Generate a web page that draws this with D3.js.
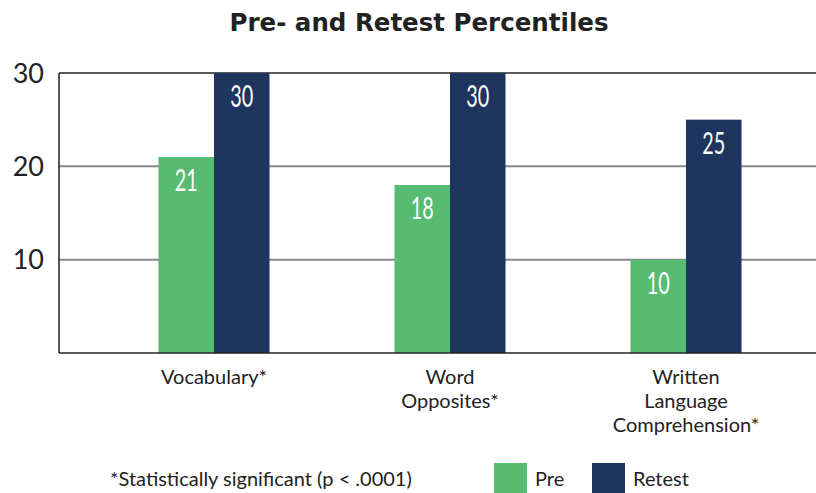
<!DOCTYPE html>
<html>
<head>
<meta charset="utf-8">
<script src="https://cdn.jsdelivr.net/npm/d3@7"></script>
<style>
  body { margin: 0; background: #fff; }
  svg { display: block; }
</style>
</head>
<body>
<svg id="chart" width="816" height="493"></svg>
<script>
// data
var categories = ["Vocabulary*", "Word\nOpposites*", "Written\nLanguage\nComprehension*"];
var preValues = [21, 18, 10];
var retestValues = [30, 30, 25];
var seriesNames = ["Pre", "Retest"];
var yTicks = [10, 20, 30];

var colors = {Pre: "#58bb72", Retest: "#1d355f"};

var svg = d3.select("#chart"),
    plotLeft = 59,
    plotRight = 816,
    plotTop = 73,
    plotBottom = 353;

var rows = categories.map(function(c, i){
  return {cat: c, Pre: preValues[i], Retest: retestValues[i]};
});

var x0 = d3.scaleBand()
  .domain(categories)
  .range([96, 804])
  .paddingInner(0);
var x1 = d3.scaleBand()
  .domain(seriesNames)
  .range([0, 111]);
var y = d3.scaleLinear()
  .domain([0, 30])
  .range([plotBottom, plotTop]);

// title
svg.append("text")
  .attr("x", 419)
  .attr("y", 31)
  .attr("text-anchor", "middle")
  .style("font-family", "'DejaVu Sans', sans-serif")
  .style("font-weight", "bold")
  .style("font-size", "24.5px")
  .style("fill", "#222")
  .text("Pre- and Retest Percentiles");

// grid lines
svg.append("g")
  .selectAll("line")
  .data(yTicks)
  .enter()
  .append("line")
  .attr("x1", plotLeft)
  .attr("x2", plotRight)
  .attr("y1", function(d){ return y(d); })
  .attr("y2", function(d){ return y(d); })
  .style("stroke", function(d){ return d == 30 ? "#222" : "#888"; })
  .style("stroke-width", function(d){ return d == 30 ? 1.5 : 2; });

// y tick labels
svg.append("g")
  .selectAll("text")
  .data(yTicks)
  .enter()
  .append("text")
  .attr("x", 44)
  .attr("y", function(d){ return y(d); })
  .attr("dy", "0.36em")
  .attr("text-anchor", "end")
  .style("font-family", "Lato, 'DejaVu Sans', sans-serif")
  .style("font-size", "27px")
  .style("fill", "#222")
  .text(function(d){ return d; });

// bars
var groups = svg.append("g")
  .selectAll("g")
  .data(rows)
  .enter()
  .append("g")
  .attr("transform", function(d){ return "translate(" + (x0(d.cat) + x0.bandwidth()/2 - 55.5) + ",0)"; });

var bars = groups.selectAll("g")
  .data(function(d){ return seriesNames.map(function(s){ return {key: s, value: d[s]}; }); })
  .enter()
  .append("g");

bars.append("rect")
  .attr("x", function(d){ return x1(d.key); })
  .attr("width", x1.bandwidth())
  .attr("y", function(d){ return y(d.value); })
  .attr("height", function(d){ return y(0) - y(d.value); })
  .style("fill", function(d){ return colors[d.key]; });

// condensed value labels (squeezed horizontally)
bars.append("text")
  .attr("transform", function(d){
    return "translate(" + (x1(d.key) + x1.bandwidth()/2) + "," + (y(d.value) + 34) + ") scale(0.66,1)";
  })
  .attr("text-anchor", "middle")
  .style("font-family", "Lato, 'DejaVu Sans', sans-serif")
  .style("font-size", "30px")
  .style("fill", "#fff")
  .text(function(d){ return d.value; });

// axes lines
svg.append("line")
  .attr("x1", plotLeft).attr("x2", plotRight)
  .attr("y1", plotBottom).attr("y2", plotBottom)
  .style("stroke", "#222").style("stroke-width", 1.5);
svg.append("line")
  .attr("x1", plotLeft).attr("x2", plotLeft)
  .attr("y1", plotTop).attr("y2", plotBottom)
  .style("stroke", "#222").style("stroke-width", 1.5);

// category labels
var catLabels = svg.append("g")
  .selectAll("text")
  .data(categories)
  .enter()
  .append("text")
  .attr("text-anchor", "middle")
  .style("font-family", "Lato, 'DejaVu Sans', sans-serif")
  .style("font-size", "20px")
  .style("fill", "#222");

catLabels.selectAll("tspan")
  .data(function(d){ return d.split("\n").map(function(t){ return {t: t, c: d}; }); })
  .enter()
  .append("tspan")
  .attr("x", function(d){ return x0(d.c) + x0.bandwidth()/2; })
  .attr("y", function(d, i){ return 384 + i * 24; })
  .text(function(d){ return d.t; });

// footnote
svg.append("text")
  .attr("x", 110)
  .attr("y", 486)
  .style("font-family", "Lato, 'DejaVu Sans', sans-serif")
  .style("font-size", "20px")
  .style("fill", "#222")
  .text("*Statistically significant (p < .0001)");

// legend
var legendX = [494, 592];
var legend = svg.append("g")
  .selectAll("g")
  .data(seriesNames)
  .enter()
  .append("g")
  .attr("transform", function(d, i){ return "translate(" + legendX[i] + ",463)"; });

legend.append("rect")
  .attr("width", 33)
  .attr("height", 31)
  .style("fill", function(d){ return colors[d]; });

legend.append("text")
  .attr("x", 41)
  .attr("y", 23)
  .style("font-family", "Lato, 'DejaVu Sans', sans-serif")
  .style("font-size", "20px")
  .style("fill", "#222")
  .text(function(d){ return d; });
</script>
</body>
</html>
